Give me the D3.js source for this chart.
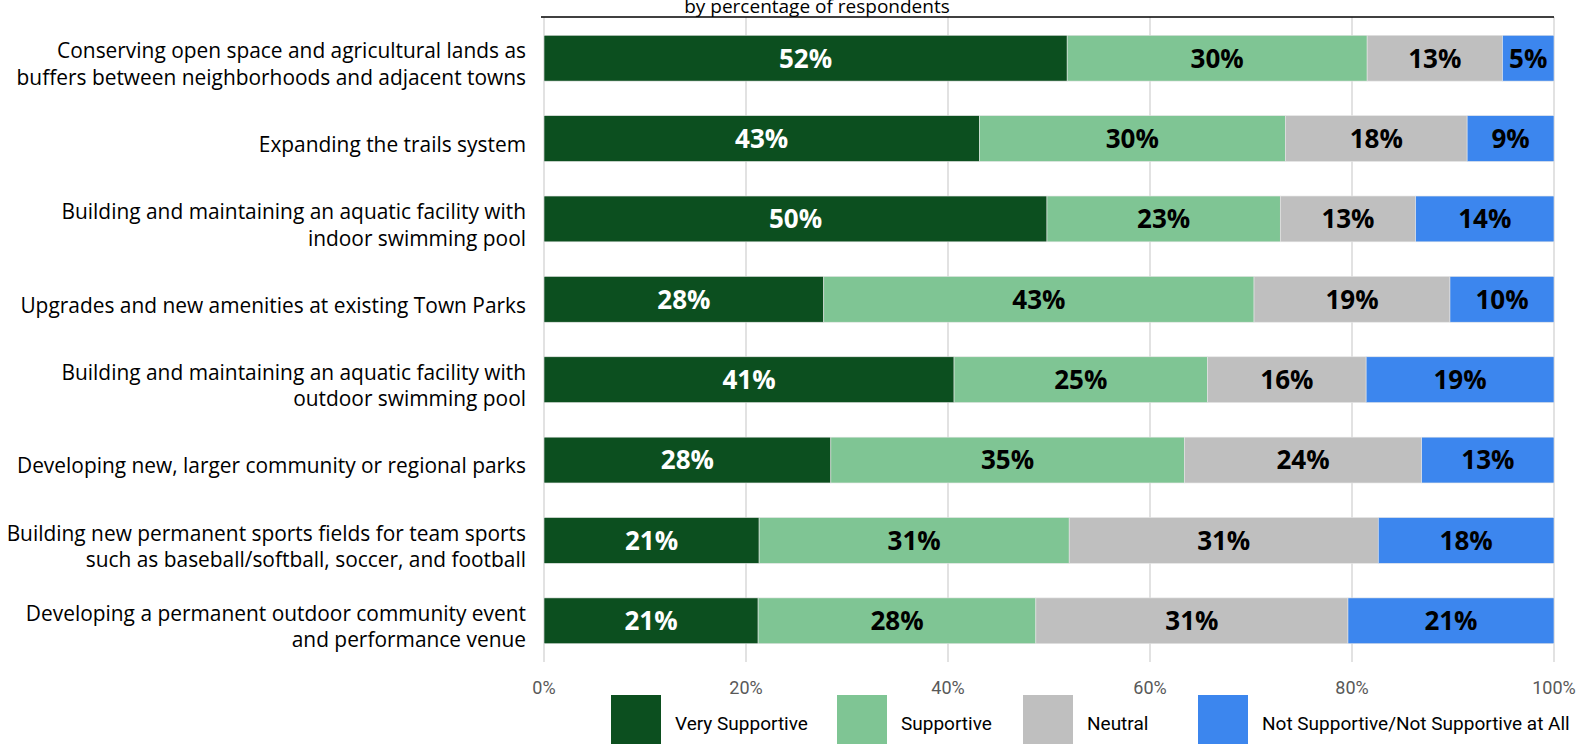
<!DOCTYPE html>
<html>
<head>
<meta charset="utf-8">
<script src="https://cdn.jsdelivr.net/npm/d3@7"></script>
<style>
  body { margin: 0; background: #fff; }
  svg { display: block; }
</style>
</head>
<body>
<div id="chart"></div>
<script>
// ---- data ----
const categories = [
  ["Conserving open space and agricultural lands as", "buffers between neighborhoods and adjacent towns"],
  ["Expanding the trails system"],
  ["Building and maintaining an aquatic facility with", "indoor swimming pool"],
  ["Upgrades and new amenities at existing Town Parks"],
  ["Building and maintaining an aquatic facility with", "outdoor swimming pool"],
  ["Developing new, larger community or regional parks"],
  ["Building new permanent sports fields for team sports", "such as baseball/softball, soccer, and football"],
  ["Developing a permanent outdoor community event", "and performance venue"]
];
const seriesNames = ["Very Supportive", "Supportive", "Neutral", "Not Supportive/Not Supportive at All"];
const veryValues    = [51.8, 43.1, 49.8, 27.7, 40.6, 28.4, 21.3, 21.2];
const suppValues    = [29.7, 30.3, 23.1, 42.6, 25.1, 35.0, 30.7, 27.5];
const neutralValues = [13.4, 18.0, 13.4, 19.4, 15.7, 23.5, 30.6, 30.9];
const notValues     = [5.1, 8.6, 13.7, 10.3, 18.6, 13.1, 17.4, 20.4];
const veryLabels    = ["52%", "43%", "50%", "28%", "41%", "28%", "21%", "21%"];
const suppLabels    = ["30%", "30%", "23%", "43%", "25%", "35%", "31%", "28%"];
const neutralLabels = ["13%", "18%", "13%", "19%", "16%", "24%", "31%", "31%"];
const notLabels     = ["5%", "9%", "14%", "10%", "19%", "13%", "18%", "21%"];
const tickValues = [0, 20, 40, 60, 80, 100];
const subtitle = "by percentage of respondents";

const colors = ["#0c4f1f", "#7fc594", "#bfbfbf", "#3c86ee"];
const textColors = ["#ffffff", "#000000", "#000000", "#000000"];

const W = 1585, H = 744;
const plotLeft = 544, plotRight = 1554, plotTop = 17, plotBottom = 662;

const svg = d3.select('#chart').append('svg')
  .attr('width', W).attr('height', H);

const x = d3.scaleLinear().domain([0, 100]).range([plotLeft, plotRight]);
const y = d3.scaleBand().domain(d3.range(categories.length))
  .range([18, 661]).paddingInner(0.43).paddingOuter(0.215);

// gridlines
svg.append('g').selectAll('line')
  .data(tickValues).enter().append('line')
  .attr('x1', d => x(d)).attr('x2', d => x(d))
  .attr('y1', plotTop).attr('y2', plotBottom)
  .attr('stroke', '#d9d9d9').attr('stroke-width', 1.5);

// top rule
svg.append('line')
  .attr('x1', plotLeft - 3).attr('x2', plotRight)
  .attr('y1', plotTop).attr('y2', plotTop)
  .attr('stroke', '#000').attr('stroke-width', 1.3);

svg.append('text')
  .attr('x', 817).attr('y', 13)
  .attr('text-anchor', 'middle')
  .attr('font-family', 'Open Sans, sans-serif')
  .attr('font-size', '19px')
  .attr('fill', '#000')
  .text(subtitle);

// stack
const rows = categories.map((c, i) => ({
  i: i,
  vals: [veryValues[i], suppValues[i], neutralValues[i], notValues[i]],
  labs: [veryLabels[i], suppLabels[i], neutralLabels[i], notLabels[i]]
}));

const segs = [];
rows.forEach(r => {
  let acc = 0;
  r.vals.forEach((v, k) => {
    segs.push({ row: r.i, k: k, x0: acc, x1: acc + v, label: r.labs[k] });
    acc += v;
  });
});

svg.append('g').selectAll('rect')
  .data(segs).enter().append('rect')
  .attr('x', d => x(d.x0))
  .attr('width', d => x(d.x1) - x(d.x0))
  .attr('y', d => y(d.row))
  .attr('height', y.bandwidth())
  .attr('fill', d => colors[d.k])
  .attr('stroke', '#e6e6e6')
  .attr('stroke-width', 0.6);

svg.append('g').selectAll('text')
  .data(segs).enter().append('text')
  .attr('x', d => (x(d.x0) + x(d.x1)) / 2)
  .attr('y', d => y(d.row) + y.bandwidth() / 2)
  .attr('dy', '0.36em')
  .attr('text-anchor', 'middle')
  .attr('font-family', 'Open Sans, sans-serif')
  .attr('font-weight', 'bold')
  .attr('font-size', '26px')
  .attr('fill', d => textColors[d.k])
  .text(d => d.label);

// category labels
const catG = svg.append('g');
categories.forEach((lines, i) => {
  const cy = y(i) + y.bandwidth() / 2 + 6;
  const lh = 26.5;
  const t = catG.append('text')
    .attr('text-anchor', 'end')
    .attr('font-family', 'Open Sans, sans-serif')
    .attr('font-size', '20.9px')
    .attr('fill', '#000');
  lines.forEach((ln, j) => {
    t.append('tspan')
      .attr('x', 526)
      .attr('y', cy + (j - (lines.length - 1) / 2) * lh)
      .attr('dy', '0.35em')
      .text(ln);
  });
});

// x axis labels
svg.append('g').selectAll('text')
  .data(tickValues).enter().append('text')
  .attr('x', d => x(d))
  .attr('y', 688)
  .attr('dy', '0.35em')
  .attr('text-anchor', 'middle')
  .attr('font-family', 'Liberation Sans Narrow, Roboto, sans-serif')
  .attr('font-size', '18px')
  .attr('fill', '#595959')
  .text(d => d + '%');

// legend
const legendX = [611, 837, 1023, 1198];
const legG = svg.append('g');
seriesNames.forEach((name, k) => {
  legG.append('rect')
    .attr('x', legendX[k]).attr('y', 695)
    .attr('width', 50).attr('height', 60)
    .attr('fill', colors[k]);
  legG.append('text')
    .attr('x', legendX[k] + 64).attr('y', 723)
    .attr('dy', '0.35em')
    .attr('font-family', 'Liberation Sans Narrow, Roboto, sans-serif')
    .attr('font-size', '19px')
    .attr('fill', '#000')
    .text(name);
});
</script>
</body>
</html>
